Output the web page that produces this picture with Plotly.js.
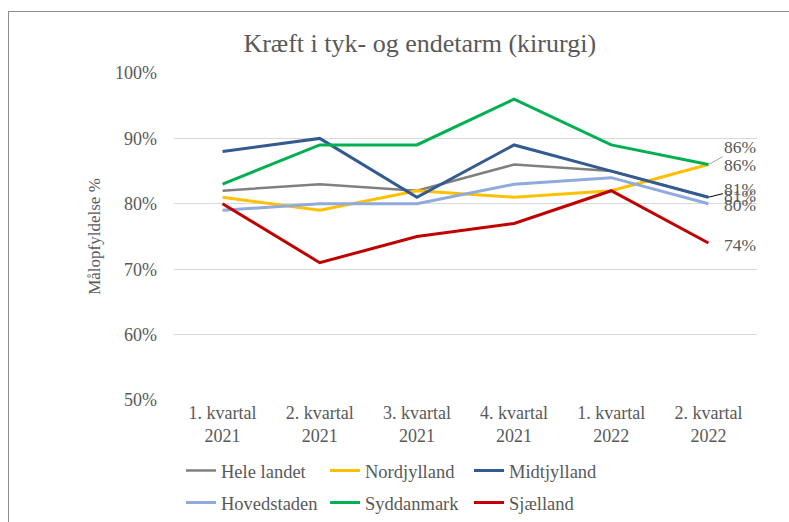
<!DOCTYPE html>
<html>
<head>
<meta charset="utf-8">
<script src="https://cdn.plot.ly/plotly-3.0.1.min.js"></script>
<style>
  body { margin: 0; background: #fff; }
  #wrap { position: relative; width: 789px; height: 522px; overflow: hidden; }
  #frame {
    position: absolute; left: 8px; top: 11px; right: -2px; bottom: -2px;
    border-top: 1px solid #8c8c8c; border-left: 1px solid #8c8c8c;
    pointer-events: none;
  }
</style>
</head>
<body>
<div id="wrap"><div id="chart"></div><div id="frame"></div></div>
<script>
// quarters on the x axis
const quarters = [
  "1. kvartal<br>2021", "2. kvartal<br>2021", "3. kvartal<br>2021",
  "4. kvartal<br>2021", "1. kvartal<br>2022", "2. kvartal<br>2022"
];

// målopfyldelse per region
const heleLandet  = [0.82, 0.83, 0.82, 0.86, 0.85, 0.81];
const nordjylland = [0.81, 0.79, 0.82, 0.81, 0.82, 0.86];
const midtjylland = [0.88, 0.90, 0.81, 0.89, 0.85, 0.81];
const hovedstaden = [0.79, 0.80, 0.80, 0.83, 0.84, 0.80];
const syddanmark  = [0.83, 0.89, 0.89, 0.96, 0.89, 0.86];
const sjaelland   = [0.80, 0.71, 0.75, 0.77, 0.82, 0.74];

const grey = "#595959";
const font = "Liberation Serif, Times New Roman, serif";

function line(name, values, color, width, legend) {
  return {
    x: quarters,
    y: values,
    type: "scatter",
    mode: "lines",
    name: name,
    legend: legend,
    line: { color: color, width: width },
    hoverinfo: "skip",
  };
}

let traces = [
  line("Hele landet", heleLandet, "#808080", 2.5, "legend"),
  line("Nordjylland", nordjylland, "#ffc000", 3, "legend"),
  line("Midtjylland", midtjylland, "#335a91", 3, "legend"),
  line("Hovedstaden", hovedstaden, "#8faadc", 3, "legend2"),
  line("Syddanmark", syddanmark, "#00b050", 3, "legend2"),
  line("Sjælland", sjaelland, "#c00000", 3, "legend2"),
];

// data labels on the last quarter (some moved with a leader line)
let last = quarters.length - 1;
let labels = [
  { values: syddanmark, dy: -17.5, leader: "#a6a6a6" },
  { values: nordjylland, dy: 0 },
  { values: midtjylland, dy: -8, leader: "#000000" },
  { values: heleLandet, dy: -1 },
  { values: hovedstaden, dy: 1.5 },
  { values: sjaelland, dy: 1.5 },
];

let annotations = labels.map(function (l) {
  let v = l.values[last];
  let a = {
    x: quarters[last],
    y: v,
    xref: "x",
    yref: "y",
    text: Math.round(v * 100) + "%",
    font: { family: font, size: 17.5, color: grey },
  };
  if (l.leader) {
    a.showarrow = true;
    a.arrowhead = 0;
    a.arrowwidth = 1;
    a.arrowcolor = l.leader;
    a.standoff = 0;
    a.ax = 32;
    a.ay = l.dy;
  } else {
    a.showarrow = false;
    a.xanchor = "center";
    a.xshift = 32;
    a.yshift = -l.dy;
  }
  return a;
});

let legendStyle = {
  orientation: "h",
  x: 0.012,
  xanchor: "left",
  yanchor: "middle",
  entrywidth: 99,
  entrywidthmode: "pixels",
  bgcolor: "rgba(0,0,0,0)",
  font: { family: font, size: 18.5, color: grey },
  tracegroupgap: 0,
};

let layout = {
  width: 789,
  height: 522,
  margin: { l: 174, r: 32, t: 73, b: 122, autoexpand: false },
  paper_bgcolor: "#ffffff",
  plot_bgcolor: "rgba(0,0,0,0)",
  font: { family: font, color: grey },
  title: {
    text: "Kræft i tyk- og endetarm (kirurgi)",
    font: { family: font, size: 26, color: grey },
    x: 0.532,
    xanchor: "center",
    xref: "container",
    y: 0.918,
    yanchor: "middle",
  },
  xaxis: {
    type: "category",
    range: [-0.5, 5.5],
    showgrid: false,
    showline: false,
    zeroline: false,
    ticks: "",
    tickfont: { family: font, size: 18, color: grey },
    fixedrange: true,
  },
  yaxis: {
    range: [0.5, 1.0],
    tick0: 0.5,
    dtick: 0.1,
    tickformat: ".0%",
    gridcolor: "#d9d9d9",
    gridwidth: 1,
    showline: false,
    zeroline: false,
    ticks: "",
    ticklabelstandoff: 16,
    tickfont: { family: font, size: 18, color: grey },
    title: {
      text: "Målopfyldelse %",
      font: { family: font, size: 17, color: grey },
      standoff: 10,
    },
    fixedrange: true,
  },
  legend: Object.assign({}, legendStyle, { y: -0.217 }),
  legend2: Object.assign({}, legendStyle, { y: -0.315 }),
  annotations: annotations,
  showlegend: true,
};

let config = {
  displayModeBar: false,
  responsive: false,
};

Plotly.newPlot("chart", traces, layout, config);
</script>
</body>
</html>
